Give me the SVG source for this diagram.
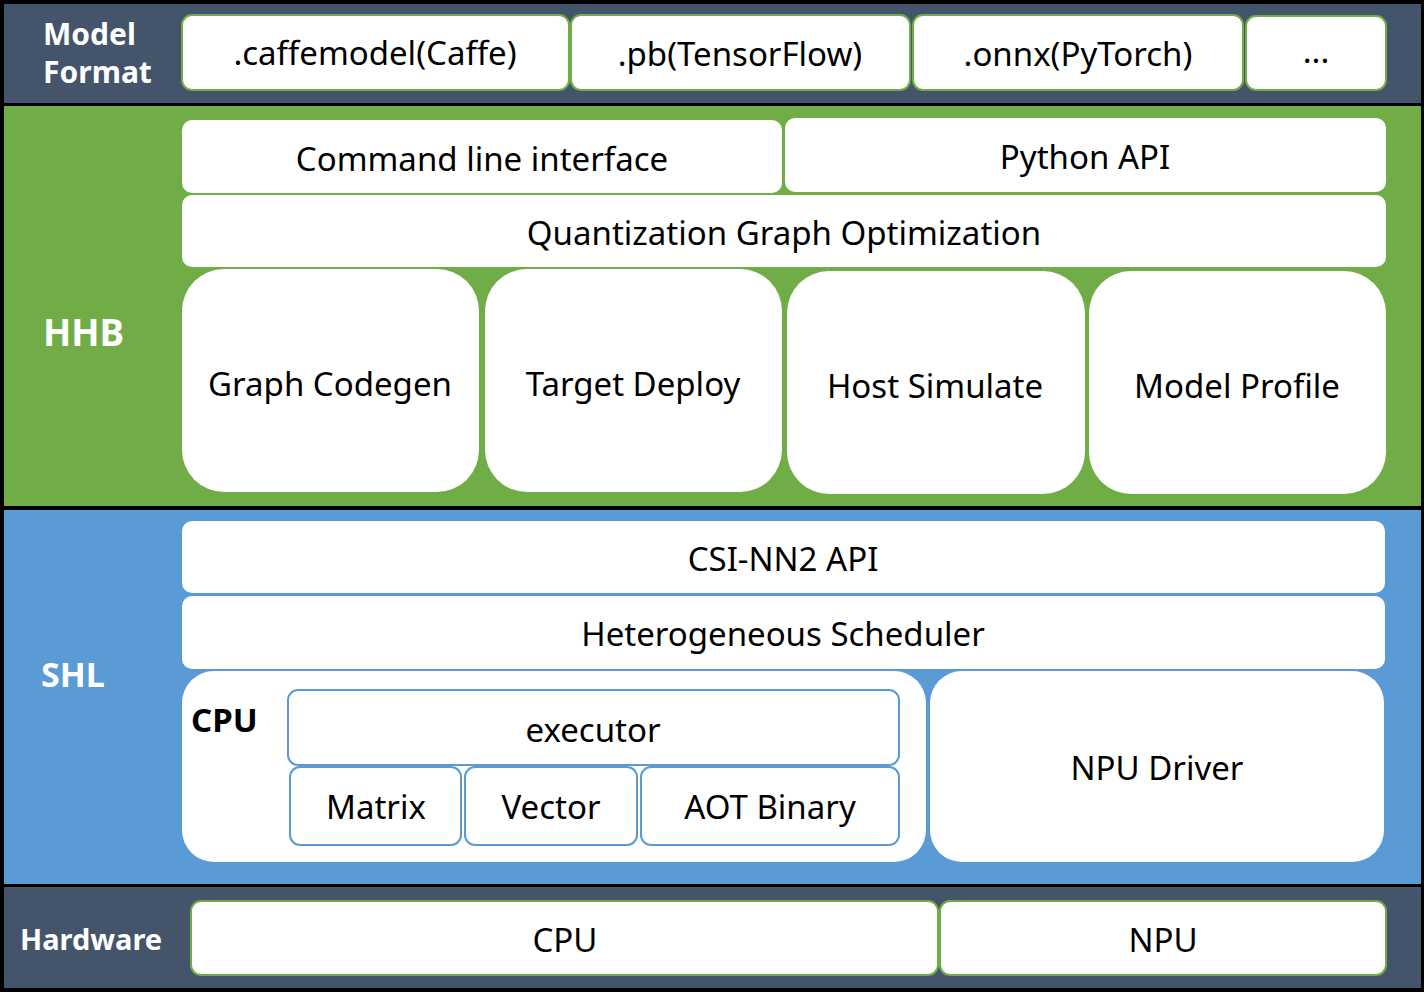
<svg xmlns="http://www.w3.org/2000/svg" width="1424" height="992" viewBox="0 0 1424 992">
<style>
.band-dark{fill:#44546A}
.band-green{fill:#70AD47}
.band-blue{fill:#5B9BD5}
.box{fill:#FFFFFF}
.gbox{fill:#FFFFFF;stroke:#70AD47;stroke-width:2}
.bbox{fill:#FFFFFF;stroke:#5B9BD5;stroke-width:2}
.lbl{font-family:"Noto Sans","Open Sans","DejaVu Sans",sans-serif;font-weight:bold;fill:#FFFFFF}
.t{font-family:"Noto Sans","Open Sans","DejaVu Sans",sans-serif;font-size:33px;fill:#000000;text-anchor:middle;dominant-baseline:central}
</style>
<rect x="0" y="0" width="1424" height="992" fill="#000000"/>
<g id="band-model-format">
<rect class="band-dark" x="4" y="4" width="1417" height="99"/>
<text class="lbl" x="43" y="45" font-size="30">Model</text>
<text class="lbl" x="43" y="83" font-size="30">Format</text>
</g>
<g id="band-hhb">
<rect class="band-green" x="4" y="106" width="1417" height="400"/>
<text class="lbl" x="43" y="346" font-size="37">HHB</text>
</g>
<g id="band-shl">
<rect class="band-blue" x="4" y="510" width="1417" height="374"/>
<text class="lbl" x="41" y="687" font-size="34">SHL</text>
</g>
<g id="band-hardware">
<rect class="band-dark" x="4" y="887" width="1417" height="101"/>
<text class="lbl" x="20" y="950" font-size="29">Hardware</text>
</g>
<g id="n-caffe"><rect class="gbox" x="182" y="15" width="387" height="75" rx="10"/><text class="t" x="375" y="52">.caffemodel(Caffe)</text></g>
<g id="n-pb"><rect class="gbox" x="571" y="15" width="339" height="75" rx="10"/><text class="t" x="740" y="53">.pb(TensorFlow)</text></g>
<g id="n-onnx"><rect class="gbox" x="913" y="15" width="330" height="75" rx="10"/><text class="t" x="1078" y="53">.onnx(PyTorch)</text></g>
<g id="n-more"><rect class="gbox" x="1246" y="16" width="140" height="74" rx="10"/><text class="t" x="1316" y="50" font-size="22">...</text></g>
<g id="n-cli"><rect class="box" x="182" y="120" width="600" height="73" rx="10"/><text class="t" x="482" y="158">Command line interface</text></g>
<g id="n-pyapi"><rect class="box" x="785" y="118" width="601" height="74" rx="10"/><text class="t" x="1085" y="156">Python API</text></g>
<g id="n-quant"><rect class="box" x="182" y="195" width="1204" height="72" rx="10"/><text class="t" x="784" y="232">Quantization Graph Optimization</text></g>
<g id="n-codegen"><rect class="box" x="182" y="269" width="297" height="223" rx="42"/><text class="t" x="330" y="383">Graph Codegen</text></g>
<g id="n-deploy"><rect class="box" x="485" y="269" width="297" height="223" rx="42"/><text class="t" x="633" y="383">Target Deploy</text></g>
<g id="n-simulate"><rect class="box" x="787" y="271" width="298" height="223" rx="42"/><text class="t" x="935" y="385">Host Simulate</text></g>
<g id="n-profile"><rect class="box" x="1089" y="271" width="297" height="223" rx="42"/><text class="t" x="1237" y="385">Model Profile</text></g>
<g id="n-csinn2"><rect class="box" x="182" y="521" width="1203" height="72" rx="10"/><text class="t" x="783" y="558">CSI-NN2 API</text></g>
<g id="n-sched"><rect class="box" x="182" y="596" width="1203" height="73" rx="10"/><text class="t" x="783" y="633">Heterogeneous Scheduler</text></g>
<g id="n-cpu-shl">
<rect class="box" x="182" y="671" width="744" height="191" rx="32"/>
<text x="191" y="732" font-family="Noto Sans, Open Sans, DejaVu Sans, sans-serif" font-weight="bold" font-size="33" fill="#000000">CPU</text>
</g>
<g id="n-executor"><rect class="bbox" x="288" y="690" width="611" height="75" rx="10"/><text class="t" x="593" y="729">executor</text></g>
<g id="n-matrix"><rect class="bbox" x="290" y="767" width="171" height="78" rx="10"/><text class="t" x="376" y="806">Matrix</text></g>
<g id="n-vector"><rect class="bbox" x="465" y="767" width="172" height="78" rx="10"/><text class="t" x="551" y="806">Vector</text></g>
<g id="n-aot"><rect class="bbox" x="641" y="767" width="258" height="78" rx="10"/><text class="t" x="770" y="806">AOT Binary</text></g>
<g id="n-npudriver"><rect class="box" x="930" y="671" width="454" height="191" rx="32"/><text class="t" x="1157" y="767">NPU Driver</text></g>
<g id="n-hw-cpu"><rect class="gbox" x="191" y="901" width="747" height="74" rx="10"/><text class="t" x="565" y="939">CPU</text></g>
<g id="n-hw-npu"><rect class="gbox" x="940" y="901" width="446" height="74" rx="10"/><text class="t" x="1163" y="939">NPU</text></g>
<g id="connectors"></g>
</svg>
